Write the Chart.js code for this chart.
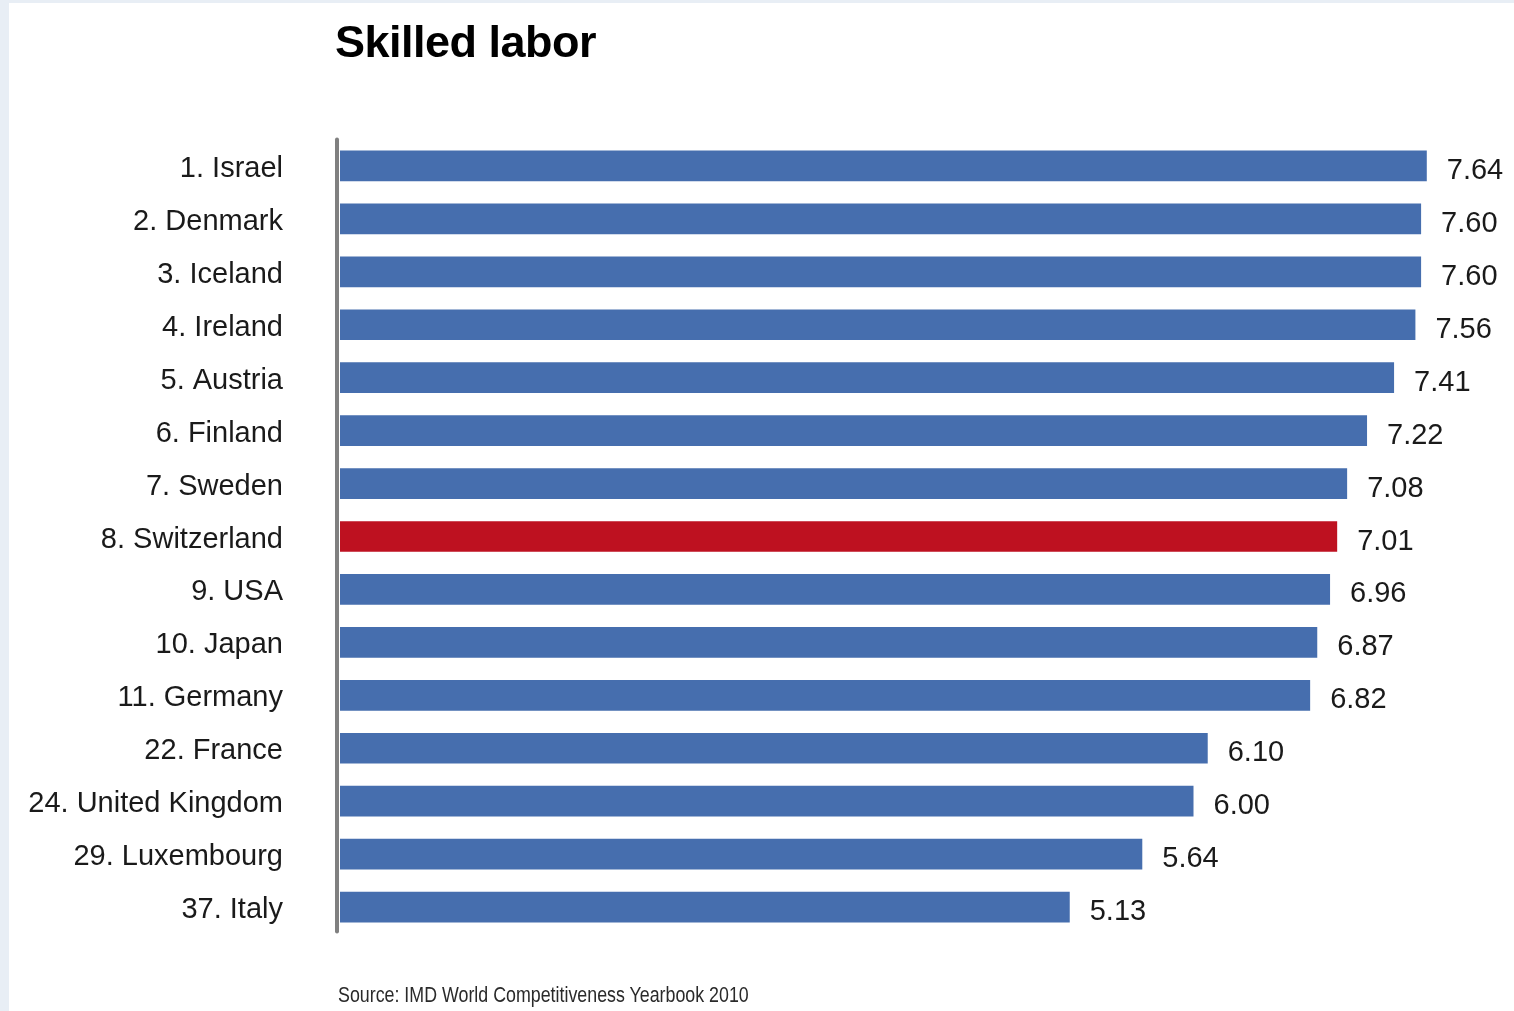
<!DOCTYPE html>
<html>
<head>
<meta charset="utf-8">
<script src="https://cdn.jsdelivr.net/npm/chart.js@4/dist/chart.umd.min.js"></script>
<style>
    html, body { margin: 0; padding: 0; }
    body { width: 1514px; height: 1011px; background: #e8eef5; position: relative; overflow: hidden; }
    #panel { position: absolute; left: 9px; top: 3px; right: 0; bottom: 0; background: #ffffff; }
    #wrap { position: absolute; left: 0; top: 0; width: 1514px; height: 1011px; }
    #title { position: absolute; left: 335px; top: 16px; font: bold 45px "Liberation Sans", Arial, sans-serif; color: #000; letter-spacing: -0.5px; }
    #source { position: absolute; left: 338px; top: 982px; font: 22px "Liberation Sans", Arial, sans-serif; color: #2a2a2a;
              transform: scaleX(0.81); transform-origin: left top; white-space: nowrap; }
</style>
</head>
<body>
<div id="panel"></div>
<div id="wrap"><canvas id="chart" width="1514" height="1011"></canvas></div>
<div id="title">Skilled labor</div>
<div id="source">Source: IMD World Competitiveness Yearbook 2010</div>
<script>
// Дані
const countries = ['1. Israel', '2. Denmark', '3. Iceland', '4. Ireland', '5. Austria', '6. Finland', '7. Sweden',
    '8. Switzerland', '9. USA', '10. Japan', '11. Germany', '22. France', '24. United Kingdom', '29. Luxembourg', '37. Italy'];
const scores = [7.64, 7.60, 7.60, 7.56, 7.41, 7.22, 7.08, 7.01, 6.96, 6.87, 6.82, 6.10, 6.00, 5.64, 5.13];
const highlight = '8. Switzerland';

const blue = '#466eae';
const red = '#be1120';

// Вертикальна сіра лінія осі ліворуч від стовпчиків
const axisLine = {
    id: 'axisLine',
    beforeDatasetsDraw(chart) {
        const { ctx, chartArea } = chart;
        ctx.save();
        ctx.strokeStyle = '#808080';
        ctx.lineWidth = 4;
        ctx.lineCap = 'round';
        ctx.beginPath();
        ctx.moveTo(chartArea.left - 3, chartArea.top);
        ctx.lineTo(chartArea.left - 3, chartArea.bottom - 2);
        ctx.stroke();
        ctx.restore();
    }
};

// Підписи значень праворуч від стовпчиків
const valueLabels = {
    id: 'valueLabels',
    afterDatasetsDraw(chart) {
        const ctx = chart.ctx;
        const meta = chart.getDatasetMeta(0);
        ctx.save();
        ctx.font = '29px "Liberation Sans", Arial, sans-serif';
        ctx.fillStyle = '#1a1a1a';
        ctx.textAlign = 'left';
        ctx.textBaseline = 'middle';
        meta.data.forEach((bar, i) => {
            ctx.fillText(scores[i].toFixed(2), bar.x + 20, bar.y + 5);
        });
        ctx.restore();
    }
};

new Chart(document.getElementById('chart'), {
    type: 'bar',
    data: {
        labels: countries,
        datasets: [{
            data: scores,
            backgroundColor: countries.map(c => c === highlight ? red : blue),
            borderWidth: 0,
            barPercentage: 1,
            categoryPercentage: 0.58
        }]
    },
    options: {
        indexAxis: 'y',
        responsive: false,
        animation: false,
        layout: { padding: { left: 0, right: 36, top: 139.5, bottom: 77.5 } },
        plugins: { legend: { display: false }, tooltip: { enabled: false } },
        scales: {
            x: { display: false, min: 0, max: 8 },
            y: {
                afterFit(scale) { scale.width = 340; },
                grid: { display: false, drawTicks: false },
                border: { display: false },
                ticks: {
                    padding: 57,
                    labelOffset: 3,
                    color: '#1a1a1a',
                    font: { family: '"Liberation Sans", Arial, sans-serif', size: 29 }
                }
            }
        }
    },
    plugins: [axisLine, valueLabels]
});
</script>
</body>
</html>
